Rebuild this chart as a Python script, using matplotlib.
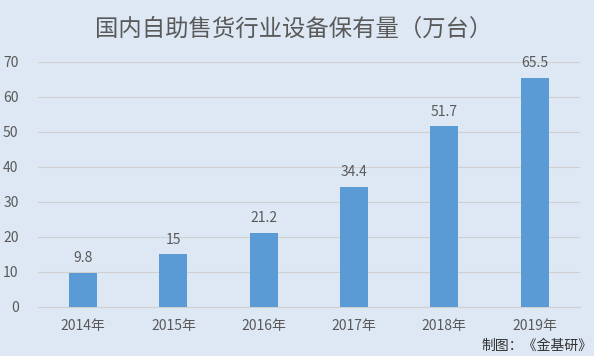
import matplotlib
matplotlib.use("Agg")
import matplotlib.pyplot as plt
import numpy as np

plt.rcParams['font.family'] = ['Noto Sans CJK SC', 'DejaVu Sans']

years = ['2014年', '2015年', '2016年', '2017年', '2018年', '2019年']
values = [9.8, 15, 21.2, 34.4, 51.7, 65.5]
value_labels = ['9.8', '15', '21.2', '34.4', '51.7', '65.5']

bg = '#dde8f4'
bar_color = '#5b9bd5'
text_color = '#595959'

fig = plt.figure(figsize=(5.94, 3.56), dpi=100, facecolor=bg)
ax = fig.add_axes([0.064, 0.138, 0.912, 0.688], facecolor=bg)

x = np.arange(len(years))
ax.bar(x, values, width=0.31, color=bar_color, zorder=3)
for xi, v, lab in zip(x, values, value_labels):
    ax.text(xi, v + 2.1, lab, ha='center', va='bottom', fontsize=10, color=text_color)

ax.set_xlim(-0.5, len(years) - 0.5)
ax.set_ylim(0, 70)
ax.set_yticks(range(0, 71, 10))
ax.set_xticks(x)
ax.set_xticklabels(years)
ax.tick_params(axis='both', length=0, labelsize=10, labelcolor=text_color)
ax.tick_params(axis='x', pad=9)
ax.tick_params(axis='y', pad=14)
ax.grid(axis='y', color='#d0d0d0', linewidth=0.8, zorder=0)
for s in ['top', 'right', 'left']:
    ax.spines[s].set_visible(False)
ax.spines['bottom'].set_color('#d0d0d0')

fig.text(0.495, 0.918, '国内自助售货行业设备保有量（万台）', ha='center', va='center',
         fontsize=16.8, color=text_color)
fig.text(0.998, 0.03, '制图：《金基研》', ha='right', va='center', fontsize=10, color='#333333')

fig.savefig('out.png', dpi=100, facecolor=bg)
